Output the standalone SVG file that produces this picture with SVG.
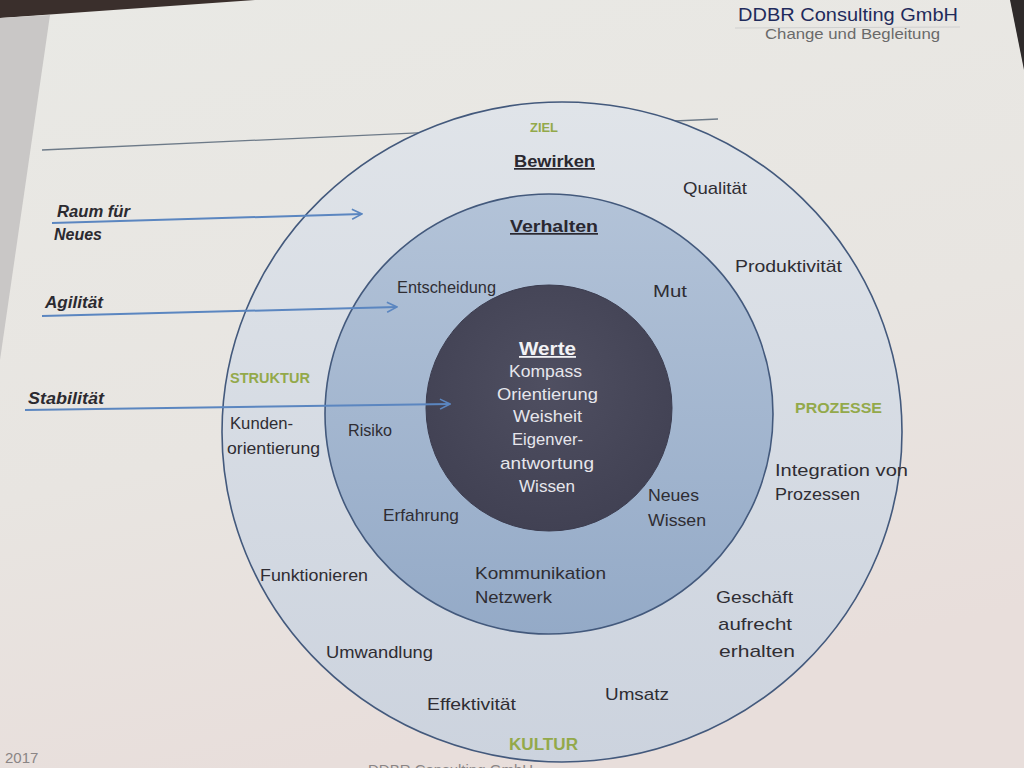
<svg xmlns="http://www.w3.org/2000/svg" width="1024" height="768" viewBox="0 0 1024 768">
<defs>
<linearGradient id="bg" x1="0" y1="0" x2="0.3" y2="1">
<stop offset="0" stop-color="#e9e9e5"/>
<stop offset="0.6" stop-color="#e8e5e1"/>
<stop offset="1" stop-color="#e8dedb"/>
</linearGradient>
<linearGradient id="outerFill" x1="0" y1="0" x2="0" y2="1">
<stop offset="0" stop-color="#e0e4e9"/>
<stop offset="1" stop-color="#ccd3de"/>
</linearGradient>
<linearGradient id="midFill" x1="0" y1="0" x2="0" y2="1">
<stop offset="0" stop-color="#b3c3d8"/>
<stop offset="1" stop-color="#94aac7"/>
</linearGradient>
<radialGradient id="innerFill" cx="0.5" cy="0.4" r="0.6">
<stop offset="0" stop-color="#4f4f61"/>
<stop offset="1" stop-color="#414153"/>
</radialGradient>
<marker id="arr" viewBox="0 0 12 12" refX="11" refY="6" markerWidth="12" markerHeight="12" markerUnits="userSpaceOnUse" orient="auto">
<path d="M1,1 L11,6 L1,11" fill="none" stroke="#5b86c0" stroke-width="1.6"/>
</marker>
<style>
.t{font-family:"Liberation Sans",Arial,sans-serif;font-size:17px;fill:#2f2d33}
.h{font-family:"Liberation Sans",Arial,sans-serif;font-size:17px;font-weight:bold;fill:#2a2830;text-decoration:underline}
.g{font-family:"Liberation Sans",Arial,sans-serif;font-size:14px;font-weight:bold;fill:#93a94a}
.w{font-family:"Liberation Sans",Arial,sans-serif;font-size:17px;fill:#e6e6ec}
.l{font-family:"Liberation Sans",Arial,sans-serif;font-size:16px;font-weight:bold;font-style:italic;fill:#2b2a30}
.ring{stroke:#43597c;stroke-width:1.6}
.conn{stroke:#5b86c0;stroke-width:2;fill:none}
</style>
</defs>
<rect width="1024" height="768" fill="url(#bg)"/>
<path d="M0,0 L255,0 L0,18 Z" fill="#3a2f2c"/>
<path d="M0,18 L50,15 L0,360 Z" fill="#c9c7c6"/>
<path d="M1010,0 L1024,0 L1024,70 Z" fill="#2e2a2a"/>

<g id="header">
<text x="738" y="21" textLength="220" lengthAdjust="spacingAndGlyphs" style="font-family:'Liberation Sans',Arial,sans-serif;font-size:19px;fill:#1f2b5c">DDBR Consulting GmbH</text>
<line x1="735" y1="28" x2="960" y2="27" stroke="#cfcfcf" stroke-width="1"/>
<text x="765" y="39" textLength="175" lengthAdjust="spacingAndGlyphs" style="font-family:'Liberation Sans',Arial,sans-serif;font-size:15px;fill:#6a6a6a">Change und Begleitung</text>
</g>

<line x1="42" y1="150" x2="718" y2="119" stroke="#6d7a88" stroke-width="1.3"/>

<g id="outer">
<ellipse cx="562" cy="432" rx="340" ry="330" fill="url(#outerFill)" class="ring"/>
<text x="530" y="132" class="g" textLength="28" lengthAdjust="spacingAndGlyphs" style="font-size:12px">ZIEL</text>
<text x="514" y="167" class="h" textLength="81" lengthAdjust="spacingAndGlyphs">Bewirken</text>
<text x="683" y="194" class="t" textLength="64" lengthAdjust="spacingAndGlyphs">Qualität</text>
<text x="735" y="272" class="t" textLength="107" lengthAdjust="spacingAndGlyphs">Produktivität</text>
<text x="795" y="413" class="g" textLength="87" lengthAdjust="spacingAndGlyphs" style="font-size:15px">PROZESSE</text>
<text x="775" y="476" class="t" textLength="133" lengthAdjust="spacingAndGlyphs">Integration von</text>
<text x="775" y="500" class="t" textLength="85" lengthAdjust="spacingAndGlyphs">Prozessen</text>
<text x="716" y="603" class="t" textLength="77" lengthAdjust="spacingAndGlyphs">Geschäft</text>
<text x="718" y="630" class="t" textLength="74" lengthAdjust="spacingAndGlyphs">aufrecht</text>
<text x="719" y="657" class="t" textLength="76" lengthAdjust="spacingAndGlyphs">erhalten</text>
<text x="605" y="700" class="t" textLength="64" lengthAdjust="spacingAndGlyphs">Umsatz</text>
<text x="509" y="750" class="g" textLength="69" lengthAdjust="spacingAndGlyphs" style="font-size:16px">KULTUR</text>
<text x="427" y="710" class="t" textLength="89" lengthAdjust="spacingAndGlyphs">Effektivität</text>
<text x="326" y="658" class="t" textLength="107" lengthAdjust="spacingAndGlyphs">Umwandlung</text>
<text x="260" y="581" class="t" textLength="108" lengthAdjust="spacingAndGlyphs">Funktionieren</text>
<text x="230" y="429" class="t" textLength="63" lengthAdjust="spacingAndGlyphs">Kunden-</text>
<text x="227" y="454" class="t" textLength="93" lengthAdjust="spacingAndGlyphs">orientierung</text>
<text x="230" y="383" class="g" textLength="80" lengthAdjust="spacingAndGlyphs">STRUKTUR</text>
</g>

<g id="middle">
<ellipse cx="549" cy="414" rx="224" ry="220" fill="url(#midFill)" class="ring"/>
<text x="510" y="232" class="h" textLength="88" lengthAdjust="spacingAndGlyphs">Verhalten</text>
<text x="397" y="293" class="t" textLength="99" lengthAdjust="spacingAndGlyphs">Entscheidung</text>
<text x="653" y="297" class="t" textLength="34" lengthAdjust="spacingAndGlyphs">Mut</text>
<text x="348" y="436" class="t" textLength="44" lengthAdjust="spacingAndGlyphs">Risiko</text>
<text x="383" y="521" class="t" textLength="76" lengthAdjust="spacingAndGlyphs">Erfahrung</text>
<text x="648" y="501" class="t" textLength="51" lengthAdjust="spacingAndGlyphs">Neues</text>
<text x="648" y="526" class="t" textLength="58" lengthAdjust="spacingAndGlyphs">Wissen</text>
<text x="475" y="579" class="t" textLength="131" lengthAdjust="spacingAndGlyphs">Kommunikation</text>
<text x="475" y="603" class="t" textLength="77" lengthAdjust="spacingAndGlyphs">Netzwerk</text>
</g>

<g id="inner">
<circle cx="549" cy="408" r="123" fill="url(#innerFill)" stroke="#3c3d50" stroke-width="1"/>
<text x="519" y="355" class="h" textLength="57" lengthAdjust="spacingAndGlyphs" style="fill:#f2f2f5;font-size:18px">Werte</text>
<text x="509" y="377" class="w" textLength="73" lengthAdjust="spacingAndGlyphs">Kompass</text>
<text x="497" y="400" class="w" textLength="101" lengthAdjust="spacingAndGlyphs">Orientierung</text>
<text x="513" y="422" class="w" textLength="69" lengthAdjust="spacingAndGlyphs">Weisheit</text>
<text x="512" y="445" class="w" textLength="71" lengthAdjust="spacingAndGlyphs">Eigenver-</text>
<text x="500" y="469" class="w" textLength="94" lengthAdjust="spacingAndGlyphs">antwortung</text>
<text x="519" y="492" class="w" textLength="56" lengthAdjust="spacingAndGlyphs">Wissen</text>
</g>

<g id="connectors">
<line x1="52" y1="223" x2="362" y2="214" class="conn" marker-end="url(#arr)"/>
<line x1="42" y1="316" x2="397" y2="307" class="conn" marker-end="url(#arr)"/>
<line x1="25" y1="410" x2="450" y2="404" class="conn" marker-end="url(#arr)"/>
</g>

<g id="labels">
<text x="57" y="217" class="l" textLength="73" lengthAdjust="spacingAndGlyphs">Raum für</text>
<text x="54" y="240" class="l" textLength="48" lengthAdjust="spacingAndGlyphs">Neues</text>
<text x="45" y="308" class="l" textLength="58" lengthAdjust="spacingAndGlyphs">Agilität</text>
<text x="28" y="404" class="l" textLength="76" lengthAdjust="spacingAndGlyphs">Stabilität</text>
</g>

<g id="footer">
<text x="5" y="763" style="font-family:'Liberation Sans',Arial,sans-serif;font-size:15px;fill:#8a8585">2017</text>
<text x="368" y="775" style="font-family:'Liberation Sans',Arial,sans-serif;font-size:15px;fill:#8a8585">DDBR Consulting GmbH</text>
</g>
</svg>
